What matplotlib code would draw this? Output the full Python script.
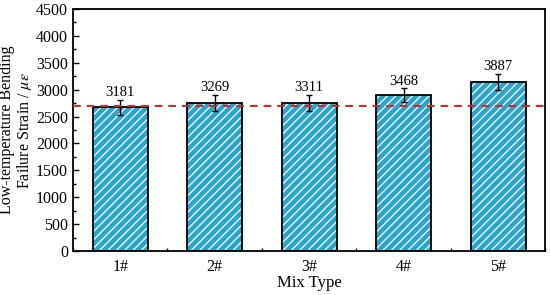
import numpy as np
import matplotlib.pyplot as plt
from matplotlib.ticker import MultipleLocator

plt.rcParams['font.family'] = ['Liberation Serif', 'DejaVu Serif']
plt.rcParams['mathtext.fontset'] = 'stix'
plt.rcParams['hatch.linewidth'] = 0.9

# data
mix_types = ['1#', '2#', '3#', '4#', '5#']
strain = [2672, 2758, 2752, 2900, 3148]
strain_err = [145, 150, 155, 125, 150]
value_labels = ['3181', '3269', '3311', '3468', '3887']
reference_line = 2700

bar_color = '#2ba5cb'

fig = plt.figure(figsize=(5.5, 2.95), dpi=100)
ax = fig.add_axes([0.1327, 0.149, 0.8591, 0.8205])

x = np.arange(len(mix_types))
width = 0.58

# fill + white hatch, then black outline on top
ax.bar(x, strain, width, color=bar_color, edgecolor='white', hatch='////', linewidth=0, zorder=2)
ax.bar(x, strain, width, fill=False, edgecolor='black', linewidth=1.3, zorder=3)
ax.errorbar(x, strain, yerr=strain_err, fmt='none', ecolor='black', elinewidth=1.0,
            capsize=2.5, capthick=1.0, zorder=4)

for xi, s, e, lab in zip(x, strain, strain_err, value_labels):
    ax.text(xi, s + e + 15, lab, ha='center', va='bottom', fontsize=10.5)

ax.axhline(reference_line, color='#e02020', linestyle=(0, (4, 3)), linewidth=1.4, zorder=5)

ax.set_xlim(-0.5, 4.5)
ax.set_ylim(0, 4500)
ax.set_xticks(x)
ax.set_xticklabels(mix_types, fontsize=11.5)
ax.xaxis.set_minor_locator(MultipleLocator(0.5))
ax.yaxis.set_major_locator(MultipleLocator(500))
ax.yaxis.set_minor_locator(MultipleLocator(250))
ax.tick_params(axis='both', which='both', direction='in', top=False, right=False)
ax.tick_params(axis='both', which='major', length=4, width=1.0, labelsize=11.5)
ax.tick_params(axis='x', which='major', pad=6)
ax.tick_params(axis='both', which='minor', length=2.5, width=1.0)
for sp in ax.spines.values():
    sp.set_linewidth(1.3)

ax.set_xlabel('Mix Type', fontsize=12, labelpad=0)
ax.set_ylabel('Low-temperature Bending\nFailure Strain / $\\mu\\varepsilon$', fontsize=11.5,
              linespacing=1.0)
ax.yaxis.set_label_coords(-0.083, 0.5)

fig.savefig('out.png', dpi=100)
